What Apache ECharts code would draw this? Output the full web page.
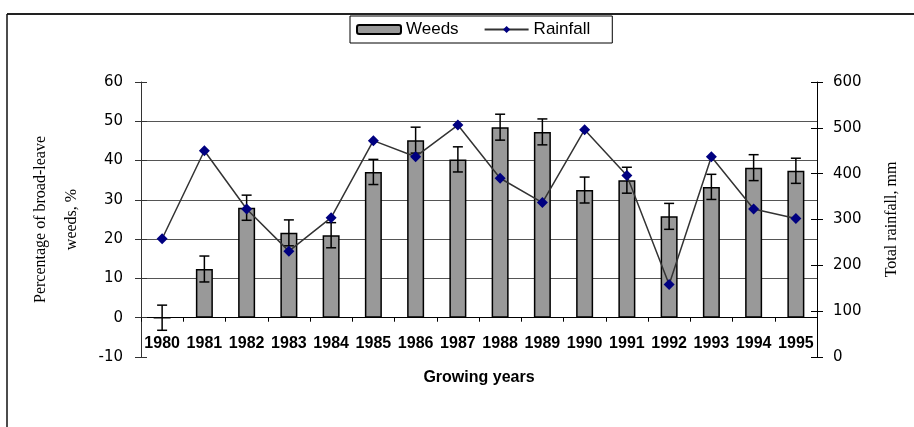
<!DOCTYPE html>
<html><head><meta charset="utf-8">
<script src="https://cdn.jsdelivr.net/npm/echarts@6/dist/echarts.min.js"></script>
<style>html,body{margin:0;padding:0;background:#fff}#c{width:914px;height:427px}</style>
</head><body><div id="c"></div>
<script>
const years = ['1980','1981','1982','1983','1984','1985','1986','1987','1988','1989','1990','1991','1992','1993','1994','1995'];
const weeds = [0, 12.4, 28.0, 21.6, 21.0, 37.1, 45.2, 40.3, 48.5, 47.3, 32.5, 35.0, 25.8, 33.3, 38.2, 37.4];
const weedsErr = [3.2, 3.3, 3.2, 3.3, 3.2, 3.2, 3.3, 3.2, 3.3, 3.3, 3.3, 3.3, 3.3, 3.2, 3.3, 3.2];
const rainfall = [258, 450, 323, 231, 304, 472, 437, 506, 390, 337, 496, 396, 158, 437, 323, 302];
const leftTicks = {min: -10, max: 60, interval: 10};
const rightTicks = {min: 0, max: 600, interval: 100};

const chart = echarts.init(document.getElementById('c'), null, {renderer: 'canvas'});
const sans = 'Liberation Sans, Arial, sans-serif';
const serif = 'Liberation Serif, Times New Roman, serif';
const errData = weeds.map((v, i) => [i, v - weedsErr[i], v + weedsErr[i]]);

chart.setOption({
  animation: false,
  backgroundColor: '#fff',
  textStyle: {fontFamily: sans},
  graphic: [
    {type: 'line', shape: {x1: 7, y1: 14, x2: 914, y2: 14}, style: {stroke: '#222', lineWidth: 2}, z: 10},
    {type: 'line', shape: {x1: 7, y1: 14, x2: 7, y2: 427}, style: {stroke: '#111', lineWidth: 1.5}, z: 10}
  ],
  legend: {
    left: 350, top: 16,
    padding: [5, 22, 5, 6],
    itemGap: 25,
    itemWidth: 44, itemHeight: 9,
    borderColor: '#000', borderWidth: 1,
    textStyle: {fontSize: 17, color: '#000', fontFamily: sans},
    data: ['Weeds', 'Rainfall']
  },
  grid: {left: 141, right: 97, top: 82, bottom: 70, containLabel: false},
  xAxis: {
    type: 'category', data: years,
    axisLine: {onZero: true, onZeroAxisIndex: 0, lineStyle: {color: '#000', width: 1}},
    axisTick: {show: true, length: 4, lineStyle: {color: '#000'}},
    axisLabel: {interval: 0, hideOverlap: false, fontSize: 16, fontWeight: 'bold', color: '#000', margin: -21, fontFamily: sans},
    name: 'Growing years', nameLocation: 'middle', nameGap: 13,
    nameTextStyle: {fontSize: 16, fontWeight: 'bold', color: '#000', fontFamily: sans}
  },
  yAxis: [
    {
      type: 'value', position: 'left', min: leftTicks.min, max: leftTicks.max, interval: leftTicks.interval,
      axisLine: {show: true, lineStyle: {color: '#333'}},
      axisTick: {show: true, length: 6, lineStyle: {color: '#333'}},
      axisLabel: {fontSize: 15, color: '#000', margin: 18, fontFamily: 'DejaVu Sans, sans-serif'},
      splitLine: {show: true, showMinLine: false, showMaxLine: false, lineStyle: {color: '#555', width: 1}},
      name: 'Percentage of broad-leave\nweeds, %', nameLocation: 'middle', nameGap: 54, nameRotate: 90,
      nameTextStyle: {fontSize: 16, color: '#000', fontFamily: serif, lineHeight: 31}
    },
    {
      type: 'value', position: 'right', min: rightTicks.min, max: rightTicks.max, interval: rightTicks.interval,
      axisLine: {show: true, lineStyle: {color: '#000'}},
      axisTick: {show: true, length: 6, lineStyle: {color: '#000'}},
      axisLabel: {fontSize: 15, color: '#000', margin: 16, fontFamily: 'DejaVu Sans, sans-serif'},
      splitLine: {show: false},
      name: 'Total rainfall, mm', nameLocation: 'middle', nameGap: 67, nameRotate: 90,
      nameTextStyle: {fontSize: 16, color: '#000', fontFamily: serif}
    },
    {
      type: 'value', position: 'left', min: leftTicks.min, max: leftTicks.max, interval: leftTicks.interval,
      axisLine: {show: false}, axisLabel: {show: false}, splitLine: {show: false},
      axisTick: {show: true, inside: true, length: 6, lineStyle: {color: '#333'}}
    },
    {
      type: 'value', position: 'right', min: rightTicks.min, max: rightTicks.max, interval: rightTicks.interval,
      axisLine: {show: false}, axisLabel: {show: false}, splitLine: {show: false},
      axisTick: {show: true, inside: true, length: 6, lineStyle: {color: '#000'}}
    }
  ],
  series: [
    {
      name: 'Weeds', type: 'bar', yAxisIndex: 0, data: weeds, barWidth: 17,
      itemStyle: {color: '#999999', borderColor: '#000', borderWidth: 1.5},
      z: 2
    },
    {
      name: 'WeedsErr', type: 'custom', yAxisIndex: 0, data: errData, z: 3,
      renderItem: function (params, api) {
        const x = api.value(0);
        const lo = api.coord([x, api.value(1)]);
        const hi = api.coord([x, api.value(2)]);
        const hw = 5;
        const st = {stroke: '#000', lineWidth: 1.5};
        return {type: 'group', children: [
          {type: 'line', shape: {x1: lo[0], y1: lo[1], x2: hi[0], y2: hi[1]}, style: st},
          {type: 'line', shape: {x1: lo[0] - hw, y1: lo[1], x2: lo[0] + hw, y2: lo[1]}, style: st},
          {type: 'line', shape: {x1: hi[0] - hw, y1: hi[1], x2: hi[0] + hw, y2: hi[1]}, style: st}
        ]};
      }
    },
    {
      name: 'Rainfall', type: 'line', yAxisIndex: 1, data: rainfall,
      symbol: 'diamond', symbolSize: 11,
      lineStyle: {color: '#333', width: 1.5},
      itemStyle: {color: '#000080'},
      z: 4
    }
  ]
});
</script></body></html>
